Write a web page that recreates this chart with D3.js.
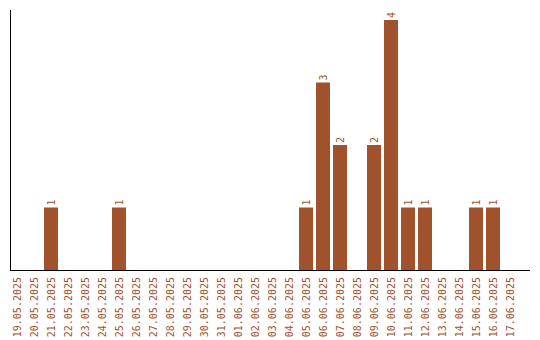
<!DOCTYPE html>
<html>
<head>
<meta charset="utf-8">
<script src="https://cdn.jsdelivr.net/npm/d3@7"></script>
<style>
  body { margin: 0; background: #fff; }
  svg text { font-family: "DejaVu Sans Mono", monospace; font-size: 10px; fill: #a0522d; }
</style>
</head>
<body>
<svg id="chart" width="540" height="340"></svg>
<script>
var dates = [
   "19.05.2025", "20.05.2025", "21.05.2025", "22.05.2025", "23.05.2025",
   "24.05.2025", "25.05.2025", "26.05.2025", "27.05.2025", "28.05.2025",
   "29.05.2025", "30.05.2025", "31.05.2025", "01.06.2025", "02.06.2025",
   "03.06.2025", "04.06.2025", "05.06.2025", "06.06.2025", "07.06.2025",
   "08.06.2025", "09.06.2025", "10.06.2025", "11.06.2025", "12.06.2025",
   "13.06.2025", "14.06.2025", "15.06.2025", "16.06.2025", "17.06.2025",
];
var counts = [
   0, 0, 1, 0, 0, 0, 1, 0, 0, 0,
   0, 0, 0, 0, 0, 0, 0, 1, 3, 2,
   0, 2, 4, 1, 1, 0, 0, 1, 1, 0,
];

var barColor = "#a0522d";
var svg = d3.select("svg#chart");

// scales
var x = d3.scaleBand()
   .domain(dates)
   .range([10, 517])
   .paddingInner(3 / 17)
   .paddingOuter(0);

var y = d3.scaleLinear().domain([0, 4]).range([270, 20]);

// bars
svg.selectAll("rect.bar")
   .data(dates)
   .enter()
   .filter((d, i) => counts[i] > 0)
   .append("rect")
   .attr("class", "bar")
   .attr("x", (d) => x(d))
   .attr("width", x.bandwidth())
   .attr("y", (d) => y(counts[dates.indexOf(d)]))
   .attr("height", (d) => y(0) - y(counts[dates.indexOf(d)]))
   .attr("fill", barColor);

// value labels
svg.selectAll("text.val")
   .data(dates.filter((d, i) => counts[i] > 0))
   .enter()
   .append("text")
   .attr("class", "val")
   .attr("transform", (d) =>
      "translate(" + (x(d) + x.bandwidth() / 2 + 3.5) + "," + (y(counts[dates.indexOf(d)]) - 2) + ") rotate(-90)")
   .text((d) => counts[dates.indexOf(d)]);

// x tick labels
svg.selectAll("text.tick")
   .data(dates)
   .enter()
   .append("text")
   .attr("class", "tick")
   .attr("text-anchor", "end")
   .attr("transform", (d) =>
      "translate(" + (x(d) + x.bandwidth() / 2 + 3.5) + ",277) rotate(-90)")
   .text((d) => d);

// axes lines
svg.append("line")
   .attr("x1", 10.5).attr("x2", 10.5)
   .attr("y1", 10).attr("y2", 270)
   .attr("stroke", "#000");
svg.append("line")
   .attr("x1", 10).attr("x2", 530)
   .attr("y1", 270.5).attr("y2", 270.5)
   .attr("stroke", "#000");
</script>
</body>
</html>
